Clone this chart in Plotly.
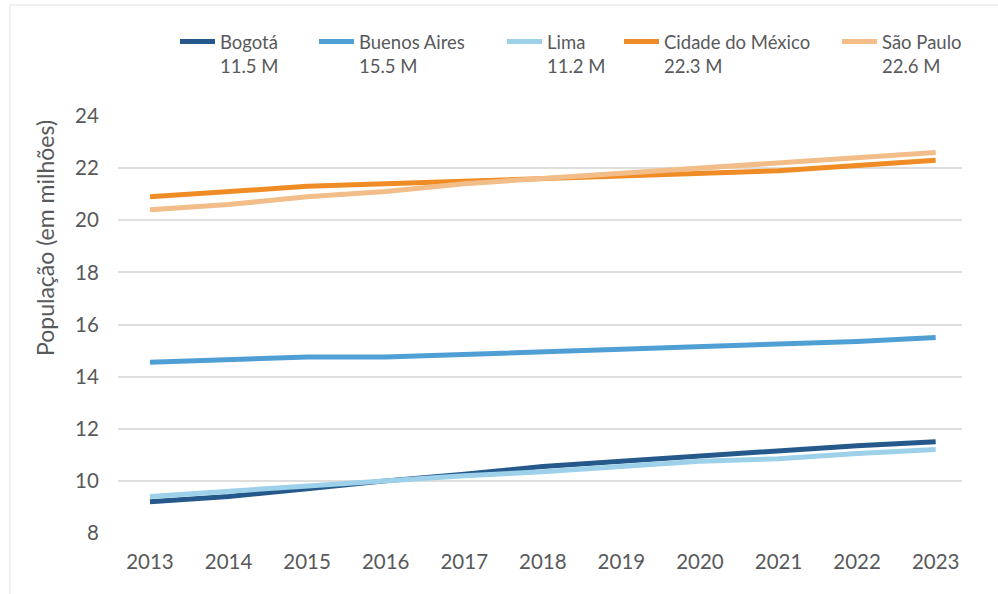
import plotly.graph_objects as go

# Population of Latin American metro areas, millions
years = [2013, 2014, 2015, 2016, 2017, 2018, 2019, 2020, 2021, 2022, 2023]

bogota = [9.2, 9.4, 9.7, 10.0, 10.25, 10.55, 10.75, 10.95, 11.15, 11.35, 11.5]
buenos_aires = [14.55, 14.65, 14.75, 14.75, 14.85, 14.95, 15.05, 15.15, 15.25, 15.35, 15.5]
lima = [9.4, 9.6, 9.8, 10.0, 10.2, 10.35, 10.55, 10.75, 10.85, 11.05, 11.2]
cidade_mexico = [20.9, 21.1, 21.3, 21.4, 21.5, 21.6, 21.7, 21.8, 21.9, 22.1, 22.3]
sao_paulo = [20.4, 20.6, 20.9, 21.1, 21.4, 21.6, 21.8, 22.0, 22.2, 22.4, 22.6]

cities = ["Bogotá", "Buenos Aires", "Lima", "Cidade do México", "São Paulo"]
series = [bogota, buenos_aires, lima, cidade_mexico, sao_paulo]
colors = ["#26598b", "#4f9fd5", "#9dd1ea", "#f08c25", "#f2bd89"]

y_ticks = [8, 10, 12, 14, 16, 18, 20, 22, 24]

FONT = "Lato, 'Open Sans', sans-serif"
TEXT = "#58595b"

W, H = 998, 594
L, R, T, B = 118, 36, 116, 61
pw, ph = W - L - R, H - T - B


def px_x(px):
    return (px - L) / pw


def px_y(py):
    return (H - B - py) / ph


# each city gets its own legend box so the entries can be spaced freely
legend_left_px = [175, 314, 502, 619, 837]
legend_ids = ["legend"] + [f"legend{i}" for i in range(2, len(cities) + 1)]

fig = go.Figure()
for name, vals, col, lid in zip(cities, series, colors, legend_ids):
    fig.add_trace(go.Scatter(
        x=years, y=vals, mode="lines",
        name=f"{name}<br>{vals[-1]:.1f} M",
        line=dict(color=col, width=5),
        legend=lid,
        hovertemplate=f"{name}: %{{y:.1f}} M<extra></extra>",
    ))

legend_style = dict(
    orientation="h", xanchor="left", yanchor="top", valign="top",
    y=px_y(23), itemwidth=35,
    font=dict(size=18.5, color=TEXT, family=FONT),
    bgcolor="rgba(0,0,0,0)",
)
legend_layout = {
    lid: dict(legend_style, x=px_x(xp))
    for lid, xp in zip(legend_ids, legend_left_px)
}

fig.update_layout(
    width=W, height=H,
    margin=dict(l=L, r=R, t=T, b=B),
    paper_bgcolor="white", plot_bgcolor="white",
    font=dict(family=FONT, color=TEXT, size=20.5),
    showlegend=True,
    **legend_layout,
    xaxis=dict(
        range=[2012.593, 2023.335],
        tickmode="array", tickvals=years, ticktext=[str(y) for y in years],
        showgrid=False, zeroline=False, showline=False,
        ticks="outside", ticklen=10, tickcolor="rgba(0,0,0,0)",
        tickfont=dict(size=20.5, color=TEXT),
    ),
    yaxis=dict(
        range=[8, 24],
        tickmode="array", tickvals=y_ticks,
        showgrid=True, gridcolor="#dedede", gridwidth=2,
        zeroline=False, showline=False,
        ticks="outside", ticklen=14, tickcolor="rgba(0,0,0,0)",
        tickfont=dict(size=20.5, color=TEXT),
    ),
    annotations=[dict(
        text="População (em milhões)", textangle=-90,
        xref="paper", yref="paper", x=px_x(45), y=px_y(238),
        xanchor="center", yanchor="middle", showarrow=False,
        font=dict(size=23, color=TEXT, family=FONT),
    )],
    shapes=[dict(
        type="rect", xref="paper", yref="paper",
        x0=px_x(10), x1=px_x(1010), y0=px_y(610), y1=px_y(5),
        line=dict(color="#e2e2e2", width=1), layer="below",
    )],
)

fig.write_html("out.html")
